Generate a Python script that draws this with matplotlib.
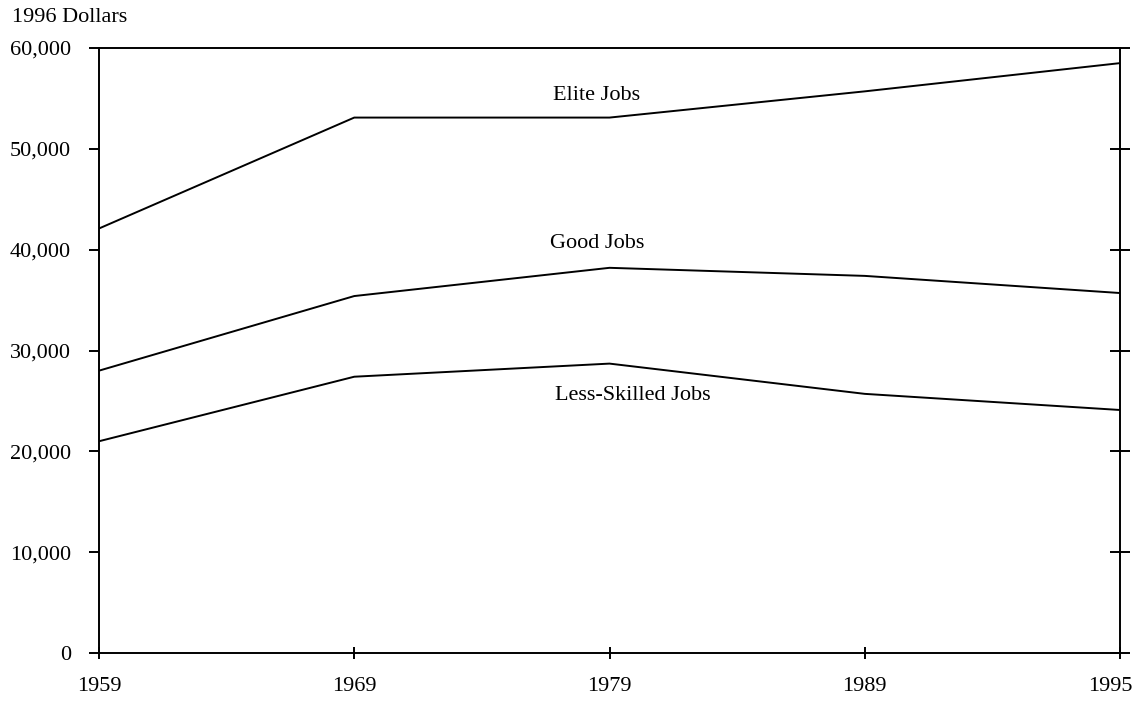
import matplotlib.pyplot as plt
import matplotlib.transforms as mtransforms

plt.rcParams['font.family'] = ['Liberation Serif', 'DejaVu Serif']

years = ['1959', '1969', '1979', '1989', '1995']
elite = [42100, 53100, 53100, 55700, 58500]
good = [28000, 35400, 38200, 37400, 35700]
less_skilled = [21000, 27400, 28700, 25700, 24100]
yticks = [0, 10000, 20000, 30000, 40000, 50000, 60000]

fig = plt.figure(figsize=(11.43, 7.03), dpi=100)
ax = fig.add_axes([99/1143, 50/703, 1021/1143, 605/703])

x = range(len(years))
for s in (elite, good, less_skilled):
    ax.plot(x, s, color='black', lw=1.4)

ax.set_xlim(0, len(years) - 1)
ax.set_ylim(0, 60000)
ax.set_xticks(list(x))
ax.set_xticklabels(years)
ax.set_yticks(yticks)
ax.set_yticklabels(['{:,}'.format(v) for v in yticks])

for sp in ax.spines.values():
    sp.set_linewidth(1.4)

ax.tick_params(axis='y', direction='out', length=7, width=1.4, labelsize=16,
               right=True, pad=13)
ax.tick_params(axis='x', direction='inout', length=8, width=1.4, labelsize=16, pad=13)
# right ticks cross the axis
for t in ax.yaxis.get_major_ticks():
    t.tick2line.set_marker('_')
    t.tick2line.set_markersize(14)
    t.tick2line.set_markeredgewidth(1.4)

# last year label sits a little left of its tick
last = ax.get_xticklabels()[-1]
last.set_transform(last.get_transform() +
                   mtransforms.ScaledTranslation(-10/100, 0, fig.dpi_scale_trans))

ax.text(1.95, 55300, 'Elite Jobs', ha='center', va='center', fontsize=16)
ax.text(1.95, 40600, 'Good Jobs', ha='center', va='center', fontsize=16)
ax.text(2.09, 25500, 'Less-Skilled Jobs', ha='center', va='center', fontsize=16)

fig.text(12/1143, 1 - 17/703, '1996 Dollars', ha='left', va='center', fontsize=16)

fig.savefig('out.png', dpi=100)
